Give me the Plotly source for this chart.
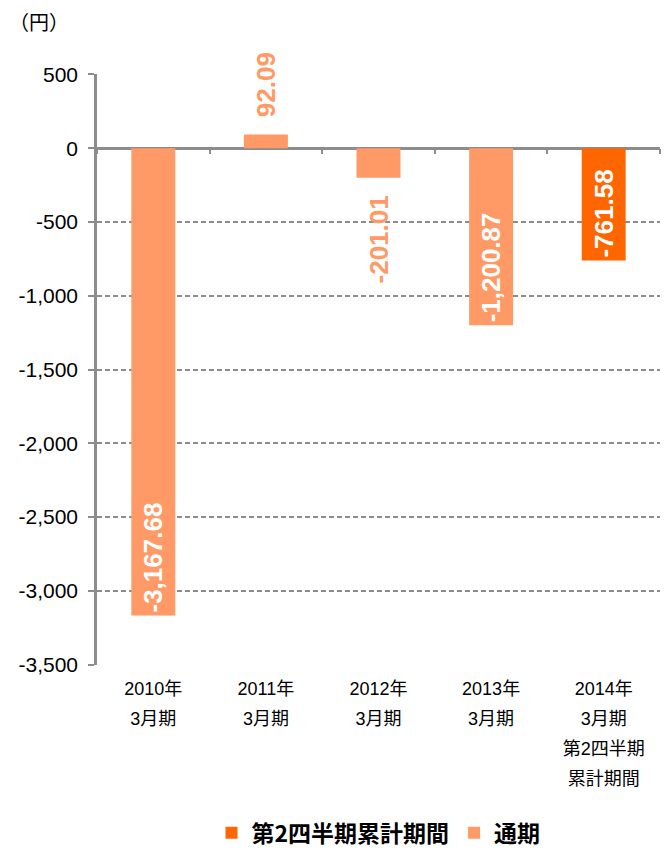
import plotly.graph_objects as go

categories = ["2010年<br>3月期", "2011年<br>3月期", "2012年<br>3月期", "2013年<br>3月期",
              "2014年<br>3月期<br>第2四半期<br>累計期間"]
annual_cats = categories[:4]
annual_vals = [-3167.68, 92.09, -201.01, -1200.87]
q2_cats = categories[4:]
q2_vals = [-761.58]
y_ticks = [500, 0, -500, -1000, -1500, -2000, -2500, -3000, -3500]

LIGHT = "#FF9966"
DARK = "#FF6600"
GRID = "#8C8C8C"
FONT = "Liberation Sans, Arial, Noto Sans CJK JP, sans-serif"
PAD = "\u00a0\u00a0"

def fmt(v):
    return f"{v:,.2f}"

def styled(cat):
    return "<br>".join(f"<span style='font-size:18px'>{p}</span>" for p in cat.split("<br>"))

annual_pos = ["inside", "outside", "outside", "inside"]
annual_text = []
for v, p in zip(annual_vals, annual_pos):
    t = fmt(v)
    if p == "outside":
        t = PAD + t if v >= 0 else t + PAD
    annual_text.append(t)

fig = go.Figure()
fig.add_trace(go.Bar(
    x=q2_cats, y=q2_vals, name="第2四半期累計期間",
    marker=dict(color=DARK, line=dict(width=0)),
    text=[fmt(v) for v in q2_vals],
    textposition="inside", insidetextanchor="end", textangle=-90,
    insidetextfont=dict(color="white", size=26, family=FONT, weight="bold"),
    constraintext="none",
    width=0.39, cliponaxis=False,
))
fig.add_trace(go.Bar(
    x=annual_cats, y=annual_vals, name="通期",
    marker=dict(color=LIGHT, line=dict(width=0)),
    text=annual_text,
    textposition=annual_pos,
    insidetextanchor="end", textangle=-90,
    insidetextfont=dict(color="white", size=26, family=FONT, weight="bold"),
    outsidetextfont=dict(color=LIGHT, size=26, family=FONT, weight="bold"),
    constraintext="none",
    width=0.39, cliponaxis=False,
))
# empty helper trace so the category-boundary tick axis on the zero line is drawn
fig.add_trace(go.Bar(x=[], y=[], xaxis="x2", yaxis="y", showlegend=False, hoverinfo="skip"))

fig.update_layout(
    width=664, height=851,
    margin=dict(l=97, r=4, t=74, b=186, autoexpand=False),
    barmode="overlay",
    plot_bgcolor="white", paper_bgcolor="white",
    font=dict(family=FONT, color="black"),
    showlegend=True,
    legend=dict(orientation="h", x=0.5, xanchor="center", y=-0.284, yanchor="middle",
                font=dict(size=23, family="Noto Sans CJK JP, sans-serif", weight="bold"),
                traceorder="normal"),
    xaxis=dict(categoryorder="array", categoryarray=categories,
               tickvals=categories, ticktext=[styled(c) for c in categories],
               showline=False, showgrid=False, ticks="",
               tickfont=dict(size=23, family=FONT), range=[-0.5, 4.5],
               ticklabelstandoff=6),
    xaxis2=dict(type="category", categoryorder="array", categoryarray=categories,
                range=[-0.5, 4.5], overlaying="x", anchor="free", position=0.875,
                side="bottom", showline=False, showgrid=False, showticklabels=False,
                ticks="outside", tickson="boundaries", ticklen=5, tickwidth=2,
                tickcolor=GRID, tickvals=categories),
    yaxis=dict(range=[-3503, 503], tickvals=y_ticks, ticktext=[f"{v:,}" for v in y_ticks],
               showline=True, linecolor=GRID, linewidth=2.5,
               ticks="outside", ticklen=6, tickcolor=GRID, tickwidth=2,
               showgrid=True, gridcolor=GRID, griddash="5px,3px", gridwidth=1.5,
               zeroline=True, zerolinecolor=GRID, zerolinewidth=2.5,
               tickfont=dict(size=21, family=FONT), ticklabelstandoff=6),
    annotations=[dict(text="（円）", xref="paper", yref="paper", x=-0.16, y=1.088,
                      xanchor="left", yanchor="middle", showarrow=False,
                      font=dict(size=20, family="Noto Sans CJK JP, sans-serif"))],
)

fig.write_html("out.html", config={"displayModeBar": False},
               post_script="document.body.style.margin='0';")
